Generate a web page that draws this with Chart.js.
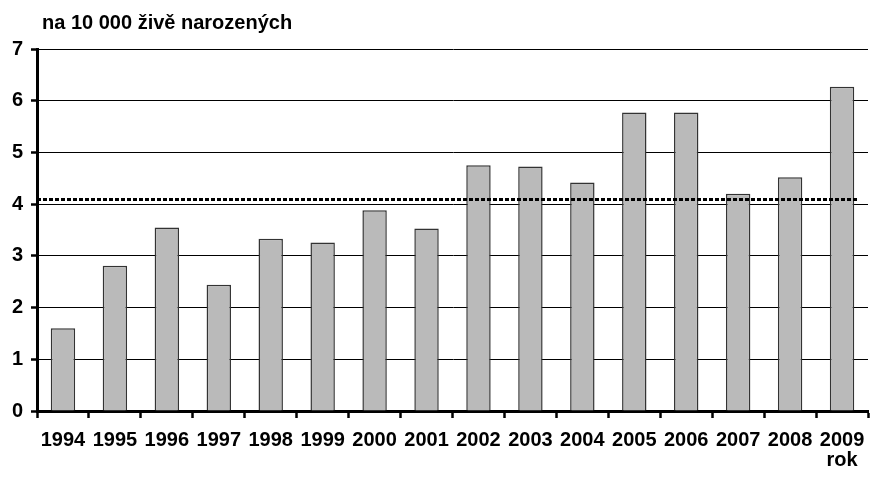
<!DOCTYPE html>
<html>
<head>
<meta charset="utf-8">
<script src="https://cdn.jsdelivr.net/npm/chart.js@4"></script>
<style>
  html, body { margin: 0; padding: 0; background: #fff; }
  .wrap { position: relative; width: 885px; height: 478px; }
  .unit {
    position: absolute; left: 42px; top: 11px;
    font: bold 20px "Liberation Sans", Arial, sans-serif; color: #000;
  }
</style>
</head>
<body>
<div class="wrap">
  <div class="unit">na 10 000 živě narozených</div>
  <canvas id="chart" width="885" height="478"></canvas>
</div>
<script>
const years = ["1994", "1995", "1996", "1997", "1998", "1999", "2000", "2001",
  "2002", "2003", "2004", "2005", "2006", "2007", "2008", "2009"];
const rates = [1.60, 2.81, 3.55, 2.44, 3.33, 3.26, 3.88, 3.53,
  4.75, 4.73, 4.42, 5.77, 5.77, 4.20, 4.52, 6.27];
const average = 4.09;
const yTicks = [0, 1, 2, 3, 4, 5, 6, 7];

const labels = years.map((y, i) => (i === years.length - 1 ? [y, "rok"] : y));

const averageLine = {
  id: "averageLine",
  afterDatasetsDraw(chart) {
    const { ctx, chartArea, scales } = chart;
    const y = scales.y.getPixelForValue(average);
    ctx.save();
    ctx.strokeStyle = "#000";
    ctx.lineWidth = 3;
    ctx.setLineDash([4, 2]);
    ctx.beginPath();
    ctx.moveTo(chartArea.left, y);
    ctx.lineTo(chartArea.right - 10, y);
    ctx.stroke();
    ctx.restore();
  }
};

const font = { family: "'Liberation Sans', Arial, sans-serif", size: 20, weight: "bold", lineHeight: 1.0 };

new Chart(document.getElementById("chart"), {
  type: "bar",
  data: {
    labels,
    datasets: [
      {
        data: rates,
        backgroundColor: "#bababa",
        borderColor: "#333",
        borderWidth: 1.5,
        categoryPercentage: 1,
        barPercentage: 0.47
      }
    ]
  },
  options: {
    responsive: false,
    animation: false,
    layout: { padding: { top: 49, right: 17, left: 0, bottom: 0 } },
    plugins: {
      legend: { display: false },
      tooltip: { enabled: false }
    },
    scales: {
      x: {
        offset: true,
        grid: {
          offset: true,
          drawOnChartArea: false,
          drawTicks: true,
          tickLength: 7,
          tickWidth: 2.5,
          tickColor: "#000"
        },
        border: { color: "#000", width: 3 },
        ticks: { color: "#000", font, padding: 12, maxRotation: 0, autoSkip: false },
        afterFit(scale) { scale.height = 67; }
      },
      y: {
        min: 0,
        max: 7,
        afterBuildTicks(scale) { scale.ticks = yTicks.map(v => ({ value: v })); },
        grid: {
          color: "#000",
          lineWidth: 1,
          drawTicks: true,
          tickLength: 6,
          tickWidth: 2.5,
          tickColor: "#000"
        },
        border: { color: "#000", width: 3 },
        ticks: { color: "#000", font, padding: 8 },
        afterFit(scale) { scale.width = 37; }
      }
    }
  },
  plugins: [averageLine]
});
</script>
</body>
</html>
